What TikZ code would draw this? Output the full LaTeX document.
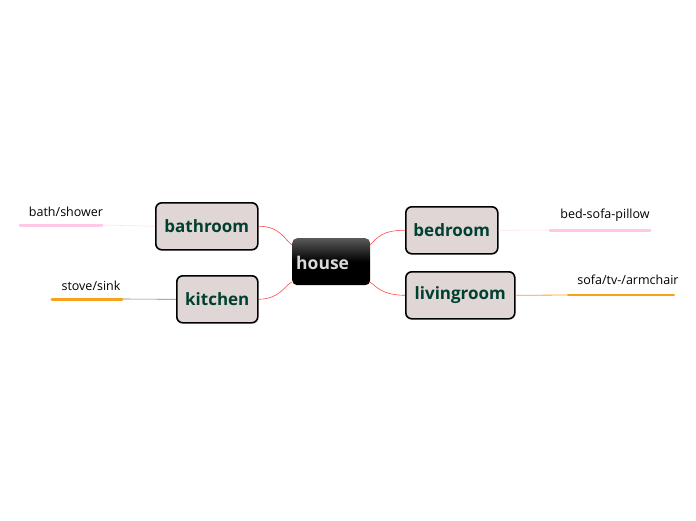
\documentclass[tikz,border=0pt]{standalone}
\usepackage{fontspec}
\setmainfont{Open Sans}
\begin{document}
\begin{tikzpicture}[x=1pt,y=-1pt,
  topic/.style={draw=black,line width=1.6pt,rounded corners=6pt,fill=topicfill,anchor=north west,inner sep=0pt,font=\bfseries\fontsize{17}{19}\selectfont,text=topictext},
  leaf/.style={font=\fontsize{12.5}{14}\selectfont},
  conn/.style={draw=red!70,line width=0.6pt}]
\definecolor{topicfill}{HTML}{E0D6D6}
\definecolor{topictext}{HTML}{004030}
\definecolor{pinkl}{HTML}{FFC8E6}
\definecolor{orangel}{HTML}{F7A21C}
\useasboundingbox (0,0) rectangle (696,520);
\node[anchor=north west,minimum width=78pt,minimum height=47pt,rounded corners=5pt,
  top color=gray!70!black,bottom color=black,middle color=black,shading angle=0,
  inner sep=0pt] (house) at (292,238) {};
\node[text=white!85!black,font=\bfseries\fontsize{17.5}{19}\selectfont,anchor=west,inner sep=0pt] at (296,263) {house};
\node[topic,minimum width=102pt,minimum height=47pt] (bath) at (155,202) {bathroom};
\node[topic,minimum width=81pt,minimum height=47pt] (kit) at (176,275) {kitchen};
\node[topic,minimum width=92pt,minimum height=47pt] (bed) at (405,206) {bedroom};
\node[topic,minimum width=109pt,minimum height=47pt] (liv) at (405,271) {livingroom};
\draw[conn] (bath.east) .. controls (280,226) and (285,240) .. (292,245);
\draw[conn] (kit.east) .. controls (280,299) and (285,285) .. (292,282);
\draw[conn] (bed.west) .. controls (382,230) and (377,238) .. (370,245);
\draw[conn] (liv.west) .. controls (382,295) and (377,287) .. (370,282);
% leaves
\coordinate (b1) at (102,225); \coordinate (b2) at (20,225);
\draw[pinkl!60,line width=0.6pt] (bath.west) -- (b1);
\draw[pinkl,line width=3pt,line cap=round] (b1) -- (b2);
\node[leaf] (bs) at (66,212) {bath/shower};
\coordinate (k1) at (122,299); \coordinate (k2) at (52,299);
\draw[gray,line width=0.6pt] (kit.west) -- (k1);
\draw[orangel,line width=3pt,line cap=round] (k1) -- (k2);
\node[leaf] (ss) at (91,286) {stove/sink};
\coordinate (d1) at (550,230); \coordinate (d2) at (650,230);
\draw[pinkl!60,line width=0.6pt] (bed.east) -- (d1);
\draw[pinkl,line width=3pt,line cap=round] (d1) -- (d2);
\node[leaf] (bsp) at (605,215) {bed-sofa-pillow};
\coordinate (l1) at (568,295); \coordinate (l2) at (674,295);
\draw[orangel,line width=0.8pt] (liv.east) -- (l1);
\draw[orangel,line width=2pt,line cap=round] (l1) -- (l2);
\node[leaf] (sta) at (628,280) {sofa/tv-/armchair};
\end{tikzpicture}
\end{document}
